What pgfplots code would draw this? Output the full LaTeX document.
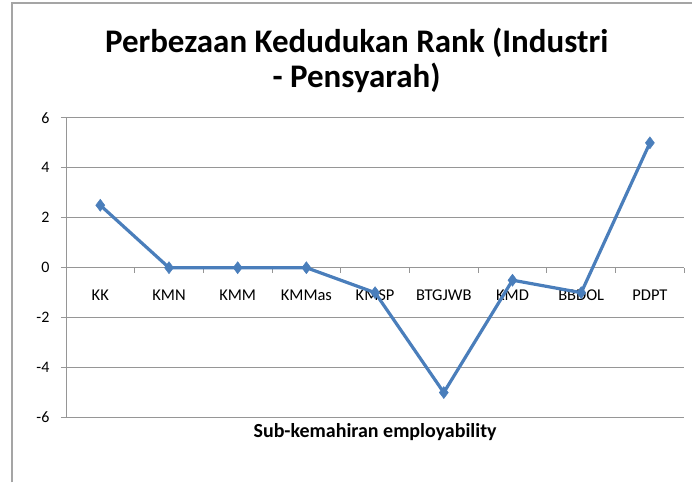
\documentclass[border=0pt]{standalone}
\usepackage{pgfplots}
\pgfplotsset{compat=1.18}
\usepackage{fontspec}
\setmainfont{Carlito}
\definecolor{linecol}{RGB}{74,126,187}
\definecolor{gridcol}{RGB}{150,150,150}
\definecolor{framecol}{RGB}{165,165,165}
\begin{document}
\begin{tikzpicture}[x=1pt,y=1pt]
\path (0,0) rectangle (693,483);
\draw[framecol, line width=1.5pt] (12,0) -- (12,480) -- (693,480);
\node[font=\bfseries\fontsize{33}{35}\selectfont, align=center] at (357,423) {Perbezaan Kedudukan Rank (Industri\\- Pensyarah)};
\begin{axis}[
  at={(66pt,65pt)}, anchor=south west,
  scale only axis, width=619pt, height=300pt,
  xmin=-0.5, xmax=8.5, ymin=-6, ymax=6,
  axis x line*=middle, axis y line*=left,
  hide obscured x ticks=false,
  axis line style={gridcol, line width=0.8pt, -},
  xtick={0,...,8},
  xticklabels={KK,KMN,KMM,KMMas,KMSP,BTGJWB,KMD,BBDOL,PDPT},
  major x tick style={draw=none},
  minor xtick={-0.5,0.5,...,8.5},
  minor x tick style={gridcol, line width=0.8pt},
  minor tick length=5pt,
  ytick={-6,-4,...,6},
  major y tick style={gridcol, line width=0.8pt},
  major tick length=5pt,
  tick align=outside,
  ymajorgrids, grid style={gridcol, line width=0.8pt},
  xticklabel style={font=\fontsize{16.5}{19}\selectfont, yshift=-14pt},
  yticklabel style={font=\fontsize{16}{19}\selectfont, xshift=-8pt},
  /pgf/number format/assume math mode=true,
  xlabel={Sub-kemahiran employability},
  xlabel style={at={(axis description cs:0.5,0)}, anchor=north, yshift=-2pt, font=\bfseries\fontsize{20}{24}\selectfont},
  clip=false,
]
\addplot[linecol, line width=3.2pt, mark=diamond*, mark size=6pt, mark options={fill=linecol, line width=0.5pt}]
coordinates {(0,2.5) (1,0) (2,0) (3,0) (4,-1) (5,-5) (6,-0.5) (7,-1) (8,5)};
\end{axis}
\end{tikzpicture}
\end{document}
